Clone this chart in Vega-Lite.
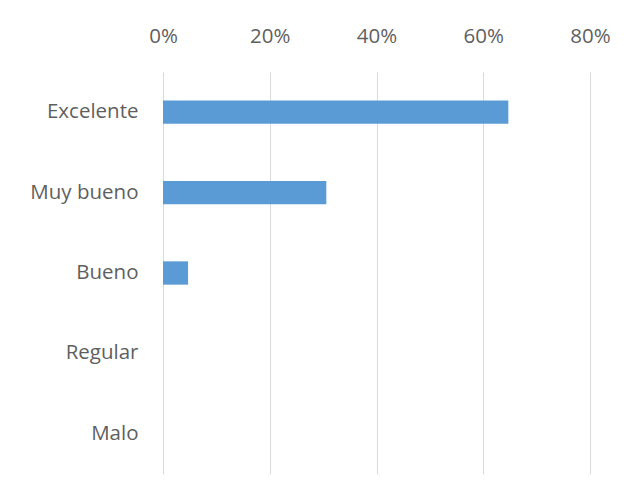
{
  "$schema": "https://vega.github.io/schema/vega-lite/v6.json",
  "width": 427,
  "height": 402,
  "autosize": {"type": "none"},
  "padding": {"left": 163, "top": 72, "right": 44, "bottom": 27},
  "background": "white",
  "config": {
    "view": {"stroke": null},
    "font": "Open Sans"
  },
  "data": {
    "values": [
      {"categoria": "Excelente", "porcentaje": 0.647},
      {"categoria": "Muy bueno", "porcentaje": 0.306},
      {"categoria": "Bueno", "porcentaje": 0.047},
      {"categoria": "Regular", "porcentaje": 0},
      {"categoria": "Malo", "porcentaje": 0}
    ]
  },
  "mark": {"type": "bar", "color": "#5B9BD5"},
  "encoding": {
    "y": {
      "field": "categoria",
      "type": "nominal",
      "sort": ["Excelente", "Muy bueno", "Bueno", "Regular", "Malo"],
      "scale": {"paddingInner": 0.71, "paddingOuter": 0.355},
      "axis": {
        "title": null,
        "domain": false,
        "ticks": false,
        "grid": false,
        "labelFont": "Open Sans",
        "labelFontSize": 20.5,
        "labelColor": "#5f5f5f",
        "labelPadding": 25
      }
    },
    "x": {
      "field": "porcentaje",
      "type": "quantitative",
      "scale": {"domain": [0, 0.8], "nice": false},
      "axis": {
        "orient": "top",
        "title": null,
        "values": [0, 0.2, 0.4, 0.6, 0.8],
        "format": ".0%",
        "domain": false,
        "ticks": false,
        "grid": true,
        "gridColor": "#D9D9D9",
        "gridWidth": 1,
        "labelFont": "Open Sans",
        "labelFontSize": 20.5,
        "labelColor": "#5f5f5f",
        "labelPadding": 26,
        "labelFlush": false
      }
    }
  }
}
